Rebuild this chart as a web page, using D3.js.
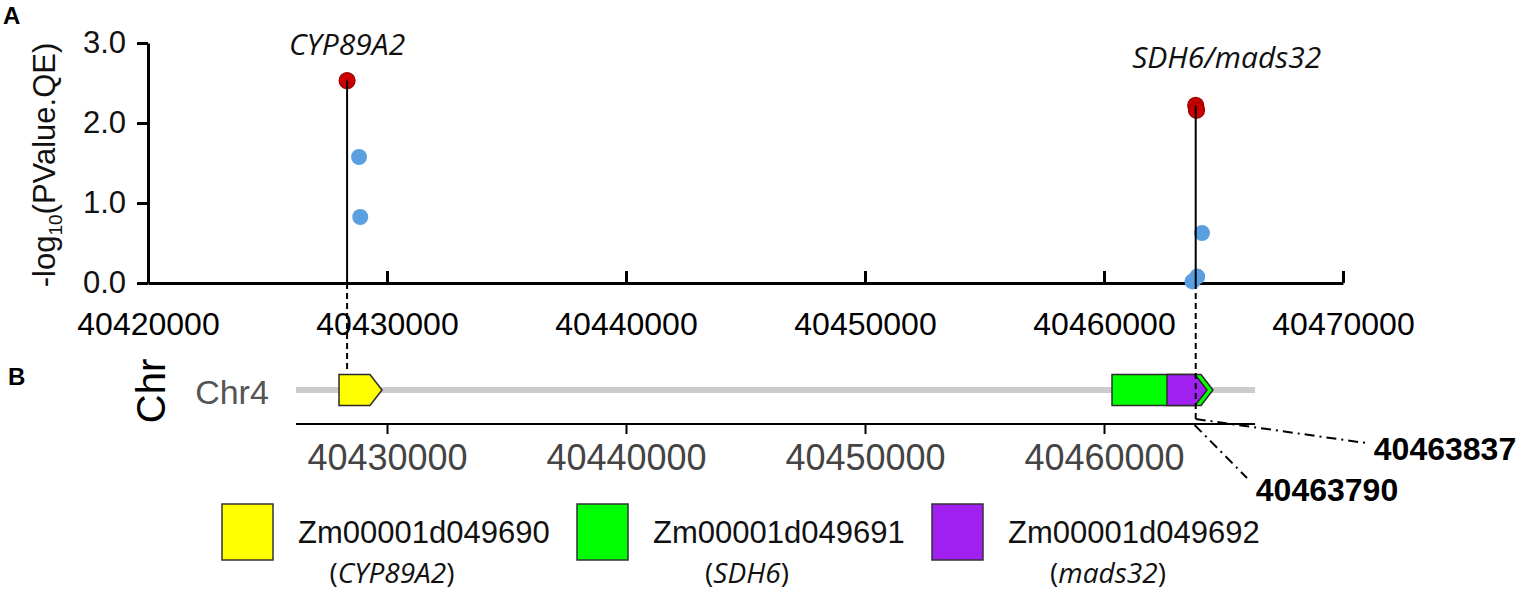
<!DOCTYPE html>
<html><head><meta charset="utf-8">
<script src="https://cdn.jsdelivr.net/npm/d3@7/dist/d3.min.js"></script>
<style>html,body{margin:0;padding:0;background:#fff;}svg{display:block;}</style>
</head><body>
<svg id="chart" width="1535" height="594"></svg>
<script>
// ---------- data ----------
const xTicksTop = [40420000, 40430000, 40440000, 40450000, 40460000, 40470000];
const yTicks = [0, 1, 2, 3];
const yTickLabels = ["0.0", "1.0", "2.0", "3.0"];
const pointPos = [40428330, 40428830, 40428880, 40463837, 40463870, 40464100, 40463700, 40463900];
const pointVal = [2.53, 1.575, 0.825, 2.22, 2.16, 0.625, 0.02, 0.08];
const pointSig = [true, false, false, true, true, false, false, false];
const leadNames = ["CYP89A2", "SDH6/mads32"];
const leadPos = [40428330, 40463837];
const leadVal = [2.53, 2.22];
const geneIds = ["Zm00001d049690", "Zm00001d049691", "Zm00001d049692"];
const geneSymbols = ["CYP89A2", "SDH6", "mads32"];
const geneStart = [40427992, 40460335, 40462636];
const geneEnd = [40429791, 40464561, 40464310];
const geneColors = ["#ffff00", "#00ff00", "#a020f0"];
const chrName = "Chr4";
const chrStart = 40426190, chrEnd = 40466320;
const xTicksBottom = [40430000, 40440000, 40450000, 40460000];
const markPos = [40463837, 40463790];

// ---------- layout ----------
const svg = d3.select("#chart");
const x = d3.scaleLinear().domain([40420000, 40470000]).range([148, 1343]);
const y = d3.scaleLinear().domain([0, 3]).range([283, 43]);
const AX = "Liberation Sans, Arial, sans-serif";
const IT = "Open Sans, sans-serif";

// panel labels
svg.append("text").attr("x", 3).attr("y", 24).text("A")
  .attr("font-family", AX).attr("font-weight", "bold").attr("font-size", 24);
svg.append("text").attr("x", 8).attr("y", 385).text("B")
  .attr("font-family", AX).attr("font-weight", "bold").attr("font-size", 24);

// --- top panel axes ---
const gx = svg.append("g").attr("transform", `translate(0,${y(0)})`)
  .call(d3.axisTop(x).tickValues(xTicksTop).tickSize(12).tickSizeOuter(0).tickFormat(d3.format("d")));
gx.select(".domain").attr("stroke-width", 3).attr("stroke", "#000");
gx.selectAll(".tick line").attr("stroke-width", 3);
gx.selectAll(".tick text").attr("y", 52).attr("font-size", 32).attr("font-family", AX).attr("fill", "#000");
gx.selectAll(".tick").filter(d => d === 40420000).select("line").remove();

const gy = svg.append("g").attr("transform", `translate(${x(40420000)},0)`)
  .call(d3.axisLeft(y).tickValues(yTicks).tickSize(11).tickSizeOuter(0).tickFormat((d, i) => yTickLabels[i]));
gy.select(".domain").attr("stroke-width", 3);
gy.selectAll(".tick line").attr("stroke-width", 3);
gy.selectAll(".tick text").attr("x", -22).attr("font-size", 31).attr("font-family", AX).attr("fill", "#111");

// y-axis title
const yt = svg.append("text").attr("transform", "translate(55,165) rotate(-90)")
  .attr("text-anchor", "middle").attr("font-family", AX).attr("font-size", 31).attr("fill", "#111");
yt.append("tspan").text("-log");
yt.append("tspan").text("10").attr("font-size", 19).attr("dy", 7);
yt.append("tspan").text("(PValue.QE)").attr("dy", -7);

// points
const pts = pointPos.map((p, i) => ({p, v: pointVal[i], s: pointSig[i]}));
svg.selectAll(".pt").data(pts).join("circle").attr("class", "pt")
  .attr("cx", d => x(d.p)).attr("cy", d => y(d.v)).attr("r", 8)
  .attr("fill", d => d.s ? "#cc0000" : "#5aa0e0")
  .attr("stroke", d => d.s ? "#990000" : "none").attr("stroke-width", 1.2);
// stems (drawn over points)
svg.selectAll(".stem").data(leadPos).join("line").attr("class", "stem")
  .attr("x1", d => x(d)).attr("x2", d => x(d))
  .attr("y1", y(0)).attr("y2", (d, i) => y(leadVal[i]))
  .attr("stroke", "#000").attr("stroke-width", 2);

// lead labels
svg.selectAll(".lead").data(leadNames).join("text")
  .attr("x", (d, i) => i === 0 ? x(leadPos[i]) : x(leadPos[i]) + 31)
  .attr("y", (d, i) => i === 0 ? 55 : 68)
  .attr("text-anchor", "middle").attr("font-family", IT)
  .attr("font-style", "italic").attr("font-size", 30).attr("fill", "#111").text(d => d);

// --- panel B: gene track ---
const trackY = 390, gh = 31, arrow = 12;
svg.append("text").attr("transform", `translate(165,391) rotate(-90)`).attr("text-anchor", "middle")
  .attr("font-family", AX).attr("font-size", 40).attr("fill", "#000").text("Chr");
svg.append("text").attr("x", 232).attr("y", 404).attr("text-anchor", "middle")
  .attr("font-family", AX).attr("font-size", 34).attr("fill", "#555").text(chrName);
svg.append("line").attr("x1", x(chrStart)).attr("x2", x(chrEnd)).attr("y1", trackY).attr("y2", trackY)
  .attr("stroke", "#cccccc").attr("stroke-width", 6);

// dashed connectors
svg.append("line").attr("x1", x(leadPos[0])).attr("x2", x(leadPos[0])).attr("y1", y(0)).attr("y2", 372)
  .attr("stroke", "#000").attr("stroke-width", 2).attr("stroke-dasharray", "6,4");

const genes = geneIds.map((g, i) => ({g, s: geneStart[i], e: geneEnd[i], c: geneColors[i]}));
svg.selectAll(".gene").data(genes).join("path").attr("class", "gene")
  .attr("d", d => {
    const x0 = x(d.s), x2 = x(d.e), x1 = x2 - arrow;
    const t = trackY - gh / 2, b = trackY + gh / 2;
    return `M${x0},${t}L${x1},${t}L${x2},${trackY}L${x1},${b}L${x0},${b}Z`;
  })
  .attr("fill", d => d.c).attr("stroke", "#2a2a2a").attr("stroke-width", 1.5);

svg.append("line").attr("x1", x(markPos[0])).attr("x2", x(markPos[0])).attr("y1", y(0)).attr("y2", 419)
  .attr("stroke", "#000").attr("stroke-width", 2).attr("stroke-dasharray", "6,4");

// bottom axis
const gb = svg.append("g").attr("transform", "translate(0,424)")
  .call(d3.axisBottom(x).tickValues(xTicksBottom).tickSize(10).tickSizeOuter(0).tickFormat(d3.format("d")));
gb.select(".domain").attr("d", `M${x(chrStart)},0H${x(chrEnd)}`).attr("stroke-width", 2);
gb.selectAll(".tick line").attr("stroke-width", 2);
gb.selectAll(".tick text").attr("y", 20).attr("font-size", 36).attr("font-family", AX).attr("fill", "#444");

// position markers
svg.append("line").attr("x1", x(markPos[0])).attr("y1", 419).attr("x2", 1366).attr("y2", 443)
  .attr("stroke", "#000").attr("stroke-width", 2).attr("stroke-dasharray", "10,5,2,5");
svg.append("line").attr("x1", x(markPos[1])).attr("y1", 425).attr("x2", 1247).attr("y2", 478)
  .attr("stroke", "#000").attr("stroke-width", 2).attr("stroke-dasharray", "10,5,2,5");
svg.append("text").attr("x", 1445).attr("y", 460).attr("text-anchor", "middle")
  .attr("font-family", AX).attr("font-weight", "bold").attr("font-size", 32).text(markPos[0]);
svg.append("text").attr("x", 1327).attr("y", 501).attr("text-anchor", "middle")
  .attr("font-family", AX).attr("font-weight", "bold").attr("font-size", 32).text(markPos[1]);

// legend
const legX = [222, 577, 932];
const lg = svg.selectAll(".leg").data(genes).join("g").attr("class", "leg")
  .attr("transform", (d, i) => `translate(${legX[i]},504)`);
lg.append("rect").attr("width", 51).attr("height", 56).attr("fill", d => d.c)
  .attr("stroke", "#333").attr("stroke-width", 1.5);
lg.append("text").attr("x", 76).attr("y", 39).attr("font-family", AX).attr("font-size", 31)
  .attr("fill", "#111").text(d => d.g);
lg.append("text").attr("x", (d, i) => [170, 170, 176][i]).attr("y", 79).attr("text-anchor", "middle")
  .attr("font-family", IT).attr("font-size", 28).attr("fill", "#111")
  .each(function(d, i) {
    const t = d3.select(this);
    t.append("tspan").text("(");
    t.append("tspan").attr("font-style", "italic").text(geneSymbols[i]);
    t.append("tspan").text(")");
  });
</script>
</body></html>
